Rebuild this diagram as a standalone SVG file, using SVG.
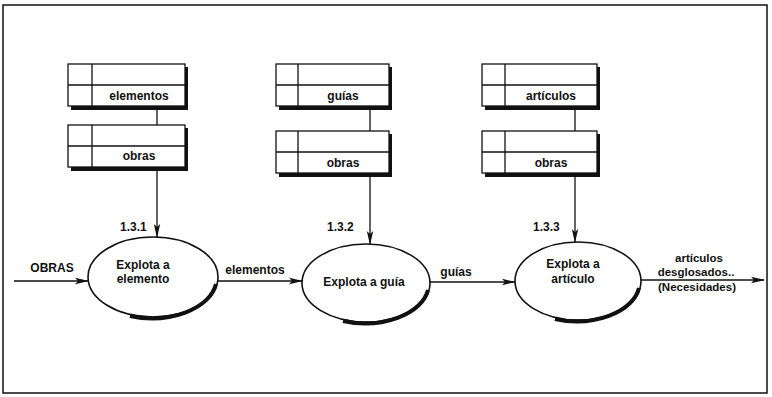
<svg xmlns="http://www.w3.org/2000/svg" width="772" height="397" viewBox="0 0 772 397">
<defs>
<style>
.t{font-family:"Liberation Sans",Arial,sans-serif;font-weight:bold;font-size:12px;fill:#111;}
.s{font-size:11.5px;}
.m{text-anchor:middle;}
.box{fill:#fff;stroke:#111;stroke-width:1.3;}
.sh{fill:#111;}
.ln{stroke:#111;stroke-width:1.3;fill:none;}
.el{fill:#fff;stroke:#111;stroke-width:1.6;}
.es{fill:none;stroke:#111;stroke-width:4;}
</style>
<marker id="ah" markerWidth="14" markerHeight="8" refX="13" refY="4" orient="auto" markerUnits="userSpaceOnUse">
<path d="M0,0.8 L14,4 L0,7.2 L3,4 Z" fill="#111"/>
</marker>
</defs>
<rect width="772" height="397" fill="#fff"/>
<rect x="3" y="5" width="764" height="388" fill="none" stroke="#111" stroke-width="1.5"/>

<g id="connectors">
<line class="ln" x1="157" y1="107" x2="157" y2="125"/>
<line class="ln" x1="157" y1="167" x2="157" y2="237" marker-end="url(#ah)"/>
<line class="ln" x1="370" y1="107" x2="370" y2="131"/>
<line class="ln" x1="370" y1="173" x2="370" y2="244" marker-end="url(#ah)"/>
<line class="ln" x1="575" y1="107" x2="575" y2="131"/>
<line class="ln" x1="575" y1="173" x2="575" y2="242" marker-end="url(#ah)"/>
<line class="ln" x1="14" y1="281" x2="88" y2="281" marker-end="url(#ah)"/>
<line class="ln" x1="218" y1="281" x2="302" y2="281" marker-end="url(#ah)"/>
<line class="ln" x1="430" y1="282" x2="515" y2="282" marker-end="url(#ah)"/>
<line class="ln" x1="641" y1="280" x2="764" y2="280" marker-end="url(#ah)"/>
<text class="t m" x="52" y="272">OBRAS</text>
<text class="t m" x="255" y="274">elementos</text>
<text class="t m" x="456" y="276">guías</text>
<text class="t s m" x="699" y="262">artículos</text>
<text class="t s m" x="696" y="276">desglosados..</text>
<text class="t s m" x="697" y="291">(Necesidades)</text>
</g>

<g id="store-elementos">
<rect class="sh" x="71" y="67" width="117" height="43"/>
<rect class="box" x="68" y="64" width="117" height="42"/>
<line class="ln" x1="68" y1="85" x2="185" y2="85"/>
<line class="ln" x1="92" y1="64" x2="92" y2="106"/>
<text class="t m" x="139" y="100">elementos</text>
</g>
<g id="store-obras-1">
<rect class="sh" x="71" y="128" width="117" height="43"/>
<rect class="box" x="68" y="125" width="117" height="42"/>
<line class="ln" x1="68" y1="146" x2="185" y2="146"/>
<line class="ln" x1="92" y1="125" x2="92" y2="167"/>
<text class="t m" x="139" y="160">obras</text>
</g>

<g id="store-guias">
<rect class="sh" x="279" y="67" width="113" height="43"/>
<rect class="box" x="276" y="64" width="113" height="42"/>
<line class="ln" x1="276" y1="85" x2="389" y2="85"/>
<line class="ln" x1="298" y1="64" x2="298" y2="106"/>
<text class="t m" x="343" y="100">guías</text>
</g>
<g id="store-obras-2">
<rect class="sh" x="279" y="134" width="113" height="43"/>
<rect class="box" x="276" y="131" width="113" height="42"/>
<line class="ln" x1="276" y1="152" x2="389" y2="152"/>
<line class="ln" x1="298" y1="131" x2="298" y2="173"/>
<text class="t m" x="343" y="167">obras</text>
</g>

<g id="store-articulos">
<rect class="sh" x="485" y="67" width="115" height="43"/>
<rect class="box" x="482" y="64" width="115" height="42"/>
<line class="ln" x1="482" y1="85" x2="597" y2="85"/>
<line class="ln" x1="505" y1="64" x2="505" y2="106"/>
<text class="t m" x="551" y="100">artículos</text>
</g>
<g id="store-obras-3">
<rect class="sh" x="485" y="134" width="115" height="43"/>
<rect class="box" x="482" y="131" width="115" height="42"/>
<line class="ln" x1="482" y1="152" x2="597" y2="152"/>
<line class="ln" x1="505" y1="131" x2="505" y2="173"/>
<text class="t m" x="551" y="167">obras</text>
</g>

<g id="proc-131">
<ellipse class="el" cx="153" cy="277" rx="65" ry="40"/>
<path class="es" d="M216,284 A65,40 0 0 1 130,316"/>
<text class="t" x="120" y="231">1.3.1</text>
<text class="t m" x="143" y="269">Explota a</text>
<text class="t m" x="143" y="283">elemento</text>
</g>
<g id="proc-132">
<ellipse class="el" cx="366" cy="283" rx="64" ry="39"/>
<path class="es" d="M428,290 A64,39 0 0 1 343,321"/>
<text class="t" x="327" y="231">1.3.2</text>
<text class="t m" x="364" y="286">Explota a guía</text>
</g>
<g id="proc-133">
<ellipse class="el" cx="578" cy="281" rx="63" ry="39"/>
<path class="es" d="M639,288 A63,39 0 0 1 555,319"/>
<text class="t" x="533" y="231">1.3.3</text>
<text class="t m" x="573" y="268">Explota a</text>
<text class="t m" x="573" y="283">artículo</text>
</g>
</svg>
